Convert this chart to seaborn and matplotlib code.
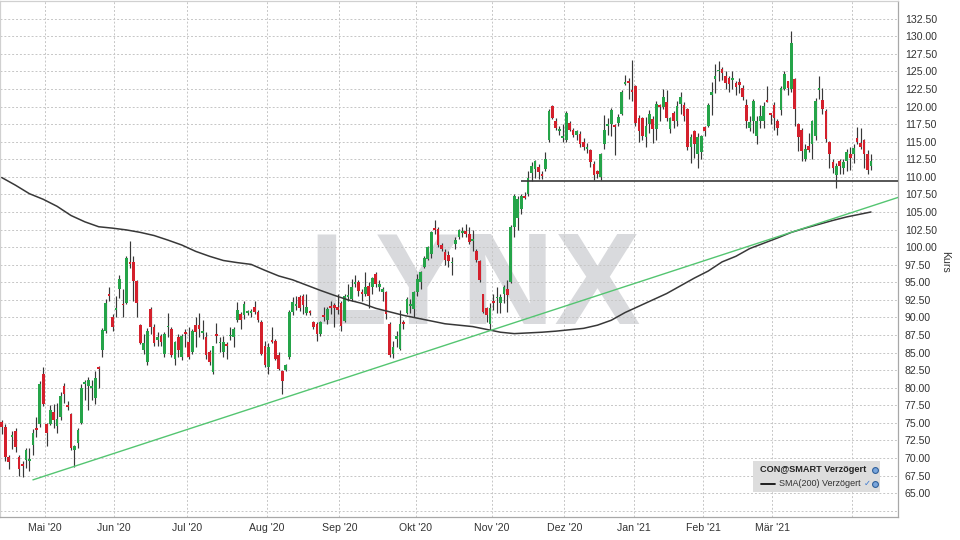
import matplotlib
matplotlib.use("Agg")
import numpy as np
import matplotlib.pyplot as plt
import seaborn as sns
from matplotlib import font_manager
from matplotlib.patches import Rectangle
from matplotlib.lines import Line2D

# CON@SMART daily candles, mid April 2020 - early April 2021
opens = [
    75.1, 74.4, 70.1, 73.0, 73.9, 70.1, 69.2, 69.7, 69.6, 71.9,
    74.2, 74.9, 81.9, 74.8, 74.8, 76.6, 74.6, 75.8, 80.2, 77.5,
    76.2, 71.2, 72.2, 75.0, 80.6, 80.3, 80.0, 78.5, 83.0, 85.3,
    88.1, 93.4, 90.0, 91.1, 94.0, 91.9, 92.0, 97.7, 97.9, 95.2,
    88.9, 85.3, 83.6, 91.2, 88.7, 86.8, 87.3, 84.8, 88.6, 88.4,
    84.1, 87.2, 84.4, 87.9, 86.5, 85.1, 88.9, 88.9, 87.8, 87.2,
    85.1, 82.2, 87.6, 86.3, 85.1, 86.1, 87.3, 87.2, 89.6, 90.5,
    90.3, 90.6, 90.6, 91.5, 90.8, 89.3, 86.0, 82.9, 86.6, 86.7,
    84.6, 82.4, 82.5, 84.4, 90.8, 91.6, 92.9, 93.0, 90.6, 90.8,
    89.3, 89.1, 87.6, 90.4, 89.6, 91.5, 91.8, 91.5, 92.1, 89.5,
    92.9, 92.6, 94.8, 95.1, 93.5, 93.3, 94.5, 94.4, 96.2, 94.4,
    93.6, 93.6, 89.1, 84.8, 86.9, 85.5, 89.3, 90.7, 91.6, 91.2,
    93.6, 95.0, 97.2, 98.3, 99.0, 102.6, 102.6, 100.3, 99.3, 98.9,
    97.7, 100.4, 101.4, 102.0, 102.3, 101.8, 100.9, 99.5, 98.0, 93.3,
    91.4, 89.1, 92.4, 92.7, 92.0, 93.4, 94.0, 95.0, 102.8, 104.2,
    105.4, 107.3, 107.6, 110.6, 111.1, 111.4, 110.3, 111.1, 115.2, 120.1,
    118.0, 116.5, 115.5, 115.2, 117.7, 116.6, 115.9, 116.1, 114.9, 114.0,
    113.8, 111.8, 110.8, 110.0, 114.6, 117.3, 117.5, 117.2, 117.6, 119.0,
    123.2, 123.7, 122.3, 122.9, 118.4, 118.3, 115.6, 117.5, 118.2, 116.8,
    120.1, 120.0, 120.7, 116.8, 119.1, 118.0, 120.4, 120.2, 119.6, 114.2,
    116.5, 113.2, 113.5, 117.1, 117.3, 121.7, 123.9, 125.0, 125.4, 124.3,
    124.1, 123.8, 123.4, 123.5, 122.7, 120.2, 117.0, 118.0, 115.8, 118.0,
    118.0, 120.8, 118.9, 120.2, 118.0, 119.5, 122.5, 123.6, 122.5, 123.9,
    117.5, 116.6, 112.5, 114.4, 114.7, 115.8, 122.4, 120.9, 119.4, 115.0,
    112.1, 110.2, 112.3, 111.3, 112.3, 113.3, 113.3, 115.5, 114.8, 115.2,
    113.3, 111.6,
]
highs = [
    75.4, 74.8, 70.5, 73.9, 74.3, 70.5, 69.6, 71.5, 71.5, 74.1,
    75.8, 81.0, 83.0, 75.0, 77.6, 77.7, 77.8, 79.4, 80.7, 78.1,
    76.4, 71.8, 74.3, 80.5, 81.1, 81.5, 81.1, 82.4, 83.1, 88.5,
    92.6, 94.3, 90.5, 93.0, 96.1, 94.1, 98.7, 100.9, 98.7, 95.3,
    89.0, 87.6, 88.5, 91.5, 89.1, 87.9, 87.7, 87.9, 90.6, 88.7,
    86.7, 87.7, 87.7, 88.4, 88.6, 88.4, 90.0, 90.6, 89.6, 87.9,
    85.3, 86.0, 89.2, 87.2, 87.4, 86.5, 88.7, 88.6, 92.2, 90.8,
    92.4, 91.0, 91.2, 92.4, 91.0, 89.6, 86.7, 86.3, 88.6, 87.0,
    85.1, 82.5, 83.4, 91.0, 92.9, 93.1, 93.2, 93.3, 93.3, 91.0,
    89.5, 89.3, 89.5, 91.5, 91.5, 92.4, 92.0, 93.3, 92.4, 93.3,
    94.7, 95.5, 96.1, 95.3, 94.0, 96.4, 95.0, 95.7, 96.4, 95.3,
    94.3, 93.8, 89.3, 86.7, 88.1, 91.0, 89.6, 92.9, 92.6, 93.8,
    96.2, 96.6, 98.8, 100.2, 102.3, 103.8, 102.8, 100.6, 99.8, 99.4,
    98.6, 101.4, 102.6, 102.8, 103.3, 102.8, 102.4, 99.8, 98.1, 93.4,
    91.5, 92.0, 93.4, 94.3, 93.4, 94.6, 95.3, 103.1, 107.5, 107.3,
    107.6, 107.8, 110.9, 112.1, 112.4, 111.8, 110.8, 113.5, 119.6, 120.2,
    118.3, 117.2, 117.5, 119.3, 118.0, 117.0, 116.6, 116.5, 115.5, 114.8,
    114.0, 112.2, 111.0, 113.4, 118.8, 118.3, 119.8, 117.5, 119.0, 122.3,
    124.5, 124.0, 126.6, 123.0, 118.8, 118.5, 118.5, 119.5, 118.6, 120.8,
    120.3, 122.5, 122.3, 118.5, 119.3, 120.8, 122.0, 120.6, 119.8, 116.1,
    116.6, 116.2, 116.0, 117.3, 120.5, 123.5, 126.1, 126.5, 125.6, 125.0,
    124.4, 125.0, 123.6, 124.0, 123.0, 121.0, 118.6, 121.0, 118.6, 120.2,
    120.6, 122.9, 119.0, 120.7, 118.2, 122.9, 125.1, 123.7, 130.7, 124.1,
    117.6, 116.9, 114.6, 116.3, 118.1, 121.2, 124.4, 122.7, 119.6, 115.1,
    112.5, 112.0, 112.5, 112.5, 114.0, 114.2, 114.7, 117.1, 116.9, 115.4,
    113.8, 113.3,
]
lows = [
    73.4, 69.6, 68.4, 71.3, 70.8, 67.5, 67.3, 68.6, 68.2, 70.5,
    73.0, 74.4, 77.4, 71.7, 74.7, 74.3, 73.6, 75.4, 77.9, 76.9,
    71.2, 68.7, 71.4, 74.9, 78.3, 76.9, 78.2, 77.7, 80.0, 84.4,
    87.8, 92.3, 88.1, 90.0, 92.8, 90.0, 91.9, 97.1, 92.4, 90.0,
    86.2, 84.8, 83.2, 87.7, 86.0, 86.0, 86.0, 84.4, 87.2, 84.4,
    83.2, 84.4, 83.9, 85.8, 84.1, 84.8, 85.8, 87.2, 86.9, 84.1,
    83.2, 82.0, 86.3, 85.1, 84.4, 84.1, 86.8, 85.8, 89.3, 88.4,
    89.8, 90.3, 90.0, 90.5, 89.3, 84.6, 82.9, 82.0, 86.3, 83.9,
    82.5, 79.1, 82.4, 84.1, 90.3, 91.0, 90.9, 90.5, 90.3, 90.3,
    88.4, 86.7, 87.4, 89.5, 89.0, 90.5, 88.6, 90.5, 88.1, 89.3,
    92.4, 92.4, 94.4, 93.1, 92.4, 93.1, 91.4, 93.3, 94.3, 93.8,
    92.4, 89.8, 84.4, 84.3, 85.8, 85.4, 88.4, 90.5, 90.6, 90.0,
    93.1, 94.0, 97.1, 98.1, 98.5, 101.8, 100.0, 99.5, 97.4, 97.2,
    96.0, 99.8, 101.2, 101.4, 101.4, 100.5, 99.5, 97.9, 95.0, 90.6,
    89.4, 88.2, 91.0, 90.6, 90.6, 92.0, 90.8, 94.9, 101.4, 102.4,
    104.7, 106.9, 107.3, 109.4, 109.9, 109.7, 109.7, 110.9, 115.0, 118.2,
    116.6, 115.9, 114.9, 115.0, 116.5, 115.6, 115.3, 114.2, 113.8, 113.4,
    111.4, 109.5, 109.8, 109.6, 114.0, 116.0, 115.8, 113.1, 117.2, 118.8,
    123.0, 121.0, 120.8, 117.2, 115.0, 115.2, 114.3, 116.2, 114.8, 115.2,
    117.9, 119.7, 117.9, 116.2, 116.9, 117.2, 118.9, 117.9, 113.8, 112.0,
    112.7, 111.3, 112.5, 115.8, 117.1, 118.8, 121.9, 123.6, 123.8, 122.5,
    122.1, 122.5, 121.7, 121.9, 120.9, 117.0, 116.5, 116.3, 114.7, 116.9,
    117.0, 120.6, 117.5, 116.6, 116.0, 118.8, 122.4, 121.6, 122.0, 117.2,
    113.7, 112.3, 112.2, 113.6, 112.5, 115.3, 121.0, 119.0, 115.0, 111.2,
    110.5, 108.4, 110.4, 110.4, 110.9, 111.0, 112.0, 114.6, 114.0, 111.3,
    110.4, 111.0,
]
closes = [
    74.4, 70.1, 69.4, 73.1, 71.6, 68.4, 68.9, 71.1, 69.8, 73.6,
    74.0, 80.6, 77.7, 73.6, 76.8, 75.4, 75.6, 78.8, 79.1, 77.3,
    71.5, 71.7, 74.0, 79.9, 80.8, 81.1, 80.2, 81.4, 82.6, 88.2,
    92.0, 93.0, 88.6, 91.4, 95.4, 91.7, 98.4, 97.6, 95.2, 92.1,
    86.3, 86.4, 88.1, 88.7, 86.3, 87.2, 86.5, 87.7, 88.8, 84.6,
    86.5, 85.3, 87.4, 87.6, 84.4, 88.1, 87.9, 88.4, 87.9, 84.6,
    83.6, 85.9, 87.3, 86.5, 86.5, 86.0, 87.5, 88.4, 91.0, 89.6,
    91.9, 90.7, 90.8, 90.8, 89.6, 84.8, 83.2, 85.8, 86.5, 84.1,
    82.7, 81.0, 83.2, 90.8, 92.2, 91.8, 91.4, 91.7, 91.5, 90.7,
    88.6, 87.6, 89.3, 90.1, 91.2, 91.4, 91.3, 91.0, 88.8, 93.1,
    93.0, 94.3, 95.1, 93.8, 93.4, 94.4, 93.1, 95.6, 94.7, 94.7,
    94.0, 90.5, 84.6, 85.8, 87.4, 89.0, 89.1, 92.6, 91.7, 93.6,
    95.5, 96.4, 98.5, 100.0, 102.1, 102.5, 100.3, 99.8, 98.1, 98.0,
    97.9, 101.0, 102.5, 102.2, 101.9, 100.8, 101.1, 98.1, 95.3, 90.8,
    90.3, 91.3, 92.1, 92.9, 92.9, 94.3, 93.2, 102.8, 107.3, 106.8,
    107.3, 107.0, 109.9, 111.6, 112.2, 110.7, 110.1, 112.6, 119.4, 118.4,
    117.0, 116.6, 115.7, 119.1, 116.6, 116.0, 116.5, 114.6, 114.3, 114.1,
    112.1, 110.2, 110.4, 113.3, 116.6, 117.4, 119.5, 117.1, 118.5, 122.1,
    123.4, 123.3, 122.1, 117.6, 116.5, 115.8, 117.3, 118.9, 116.8, 120.3,
    119.9, 121.3, 118.4, 118.3, 118.0, 120.1, 121.4, 118.7, 114.2, 115.6,
    114.7, 115.6, 115.8, 116.5, 120.2, 122.0, 124.3, 125.2, 124.7, 123.4,
    123.2, 123.9, 122.8, 123.1, 121.4, 118.0, 117.8, 120.8, 118.0, 118.7,
    120.1, 120.7, 118.8, 118.4, 117.0, 122.7, 124.6, 122.7, 129.1, 119.6,
    115.7, 113.7, 114.0, 113.8, 118.0, 120.8, 122.5, 119.6, 115.4, 113.3,
    111.3, 111.6, 111.5, 112.1, 113.5, 112.7, 114.1, 114.9, 114.3, 113.3,
    111.0, 112.2,
]

# SMA(200), read every 4th trading day
sma_day = list(range(0, 249, 4)) + [251]
sma_val = [
    109.9, 108.8, 107.6, 106.8, 105.8, 104.5, 103.6, 102.9, 102.7, 102.45,
    102.1, 101.65, 101.0, 100.3, 99.4, 98.7, 98.1, 97.8, 97.55, 96.7,
    95.9, 95.35, 94.6, 93.85, 93.15, 92.5, 92.0, 91.3, 90.8, 90.3,
    89.9, 89.5, 89.1, 88.9, 88.7, 88.3, 87.9, 87.7, 87.8, 87.9,
    88.05, 88.25, 88.45, 88.9, 89.6, 90.7, 91.6, 92.5, 93.4, 94.5,
    95.6, 96.6, 97.9, 98.7, 99.8, 100.55, 101.3, 102.1, 102.7, 103.25,
    103.8, 104.3, 104.7, 105.0,
]

# drawn trend line (two anchors) and support level
trend_day = [9, 259]
trend_price = [66.9, 107.1]
support_level = 109.35
support_from = 150

# first trading day of each month
month_start = [13, 33, 54, 77, 98, 120, 142, 163, 183, 203, 223, 246]
month_labels = ["Mai '20", "Jun '20", "Jul '20", "Aug '20", "Sep '20", "Okt '20",
                "Nov '20", "Dez '20", "Jan '21", "Feb '21", "Mär '21", ""]

sns.set_theme(style="whitegrid")
plt.rcParams['font.family'] = ['Liberation Sans', 'DejaVu Sans']

GREEN = '#25a449'
RED = '#d4202c'
WICK = '#383838'

fig = plt.figure(figsize=(9.6, 5.4), dpi=100)
fig.patch.set_facecolor('white')
ax = fig.add_axes([0.0, 0.0417, 0.9354, 0.957])
ax.set_facecolor('white')
ax.set_axisbelow(True)

o = np.array(opens)
h = np.array(highs)
l = np.array(lows)
c = np.array(closes)
day = np.arange(len(c))
up = c >= o

ax.vlines(day, l, h, color=WICK, lw=0.85, zorder=2)
body = np.maximum(np.abs(c - o), 0.25)
ax.bar(day, body, bottom=np.minimum(o, c), width=0.78,
       color=np.where(up, GREEN, RED), linewidth=0, zorder=3)

sns.lineplot(x=sma_day, y=sma_val, ax=ax, color='#383838', lw=1.1, zorder=4)
sns.lineplot(x=trend_day, y=trend_price, ax=ax, color='#54c571', lw=1.0, zorder=4)
ax.hlines(support_level, support_from, 260, color='#3a3a3a', lw=1.2, zorder=4)

# watermark
names = {f.name for f in font_manager.fontManager.ttflist}
if 'Liberation Sans Narrow' in names:
    wm_family, wm_size = 'Liberation Sans Narrow', 104
else:
    wm_family, wm_size = 'Liberation Sans', 93
ax.text(0.528, 0.374, 'LYNX', transform=ax.transAxes, ha='center', va='baseline',
        fontsize=wm_size, fontweight='bold', family=wm_family, color='#d9dadd', zorder=0.2)

ax.set_xlim(-0.5, 258.8)
ax.set_ylim(61.55, 135.05)

yt = np.arange(62.5, 135.01, 2.5)
ax.set_yticks(yt)
ax.set_yticklabels(['' if (v < 64 or v > 134) else f"{v:.2f}" for v in yt])
ax.yaxis.tick_right()
ax.set_xticks([s - 0.5 for s in month_start])
ax.set_xticklabels(month_labels)
ax.tick_params(axis='both', length=0, labelsize=7.6, labelcolor='#333333')
ax.tick_params(axis='y', pad=5)
ax.tick_params(axis='x', pad=4)

ax.yaxis.set_label_position('right')
ax.set_ylabel('Kurs', rotation=270, fontsize=7.6, color='#333333', va='center', ha='center')
ax.yaxis.set_label_coords(1.0523, 0.494)
ax.set_xlabel('')

ax.grid(True, color='#c6c6c6', linestyle=(0, (2, 2)), lw=0.7)
for side, sp in ax.spines.items():
    sp.set_visible(True)
    sp.set_color('#a8a8a8' if side in ('bottom', 'right') else '#d0d0d0')
    sp.set_linewidth(0.9)

# legend panel
W, H = 960, 540
fig.add_artist(Rectangle((753 / W, 1 - 492 / H), 127 / W, 31 / H, transform=fig.transFigure,
                         facecolor='#dddddd', edgecolor='none', zorder=5))
fig.text(760 / W, 1 - 470 / H, 'CON@SMART Verzögert', fontsize=6.6, fontweight='bold',
         color='#222222', va='center', zorder=6)
fig.add_artist(Line2D([761 / W, 775 / W], [1 - 484 / H, 1 - 484 / H], transform=fig.transFigure,
                      color='#111111', lw=1.3, zorder=6))
fig.text(779 / W, 1 - 484 / H, 'SMA(200) Verzögert', fontsize=6.5, color='#333333',
         va='center', zorder=6)
fig.text(864 / W, 1 - 484 / H, '✓', fontsize=6, color='#3a78d0', va='center', zorder=6)
for yy in (470, 484):
    fig.add_artist(Line2D([875 / W], [1 - yy / H], transform=fig.transFigure, marker='o',
                          markersize=4.2, markerfacecolor='#7aa6dc', markeredgecolor='#2f5f9a',
                          markeredgewidth=0.8, zorder=6))

fig.savefig('out.png', dpi=100)
